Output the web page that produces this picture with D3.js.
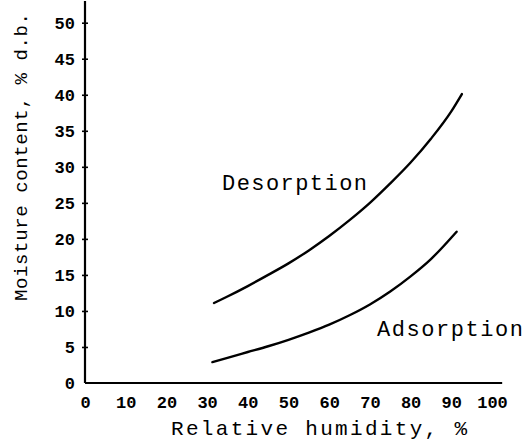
<!DOCTYPE html>
<html>
<head>
<meta charset="utf-8">
<script src="https://cdn.jsdelivr.net/npm/d3@7"></script>
<style>
  html, body { margin: 0; padding: 0; background: #fff; }
  svg { display: block; }
  text { font-family: "Liberation Mono", "Courier New", "DejaVu Sans Mono", monospace; fill: #000; }
</style>
</head>
<body>
<svg id="chart" width="525" height="446"></svg>
<script>
// ---- data ----
const xTicks = [0, 10, 20, 30, 40, 50, 60, 70, 80, 90, 100];
const yTicks = [0, 5, 10, 15, 20, 25, 30, 35, 40, 45, 50];

const desorptionRH = [31.7, 35, 40, 45, 50, 55, 60, 65, 70, 75, 80, 85, 90, 92.6];
const desorptionMC = [11.1, 12.0, 13.45, 15.0, 16.6, 18.4, 20.4, 22.6, 25.0, 27.7, 30.6, 33.9, 37.7, 40.1];

const adsorptionRH = [31.3, 35, 40, 45, 50, 55, 60, 65, 70, 75, 80, 85, 91.3];
const adsorptionMC = [2.9, 3.5, 4.3, 5.1, 6.0, 7.0, 8.1, 9.4, 10.9, 12.7, 14.8, 17.2, 21.0];

const xTitle = "Relative humidity, %";
const yTitle = "Moisture content, % d.b.";
const desLabel = "Desorption";
const adsLabel = "Adsorption";

// ---- drawing ----
const svg = d3.select("#chart");
const x = d3.scaleLinear().domain([0, 100]).range([85, 492]);
const y = d3.scaleLinear().domain([0, 50]).range([383, 22.7]);
const FONT = "'Liberation Mono', 'Courier New', monospace";

// x axis
const xAxis = d3.axisBottom(x).tickValues(xTicks).tickSize(0).tickPadding(13).tickFormat(d3.format("d"));
const gx = svg.append("g").attr("transform", `translate(0,${y(0)})`).call(xAxis);
gx.select(".domain").remove();
gx.append("line")
  .attr("x1", x(0)).attr("x2", x(102.5))
  .attr("stroke", "#000").attr("stroke-width", 2.2);
gx.selectAll("text")
  .attr("font-family", FONT).attr("font-size", 17).attr("font-weight", "bold").attr("fill", "#000");

// y axis with crossing ticks
const yAxis = d3.axisLeft(y).tickValues(yTicks).tickSize(3).tickPadding(7).tickFormat(d3.format("d"));
const gy = svg.append("g").attr("transform", `translate(${x(0)},0)`).call(yAxis);
gy.select(".domain").remove();
gy.append("line")
  .attr("y1", y(0)).attr("y2", y(53))
  .attr("stroke", "#000").attr("stroke-width", 2.2);
gy.selectAll(".tick line").attr("x1", -3).attr("x2", 3).attr("stroke", "#000").attr("stroke-width", 1.6);
gy.selectAll(".tick").filter(d => d === 0).select("line").remove();
gy.selectAll("text")
  .attr("font-family", FONT).attr("font-size", 17).attr("font-weight", "bold").attr("fill", "#000");

// curves
const line = d3.line().x(d => x(d[0])).y(d => y(d[1])).curve(d3.curveMonotoneX);
const des = d3.zip(desorptionRH, desorptionMC);
const ads = d3.zip(adsorptionRH, adsorptionMC);
svg.append("path").datum(des).attr("d", line)
  .attr("fill", "none").attr("stroke", "#000").attr("stroke-width", 2.4).attr("stroke-linecap", "round");
svg.append("path").datum(ads).attr("d", line)
  .attr("fill", "none").attr("stroke", "#000").attr("stroke-width", 2.4).attr("stroke-linecap", "round");

// curve labels
svg.append("text").attr("x", 222).attr("y", 190)
  .attr("font-size", 22).attr("textLength", 145).attr("lengthAdjust", "spacing")
  .text(desLabel);
svg.append("text").attr("x", 377).attr("y", 336)
  .attr("font-size", 22).attr("textLength", 146).attr("lengthAdjust", "spacing")
  .text(adsLabel);

// axis titles
svg.append("text").attr("x", 319).attr("y", 435).attr("text-anchor", "middle")
  .attr("font-size", 21).attr("textLength", 296).attr("lengthAdjust", "spacing")
  .text(xTitle);
svg.append("text")
  .attr("transform", "translate(27,157) rotate(-90)")
  .attr("text-anchor", "middle")
  .attr("font-size", 19).attr("textLength", 288).attr("lengthAdjust", "spacing")
  .text(yTitle);
</script>
</body>
</html>
